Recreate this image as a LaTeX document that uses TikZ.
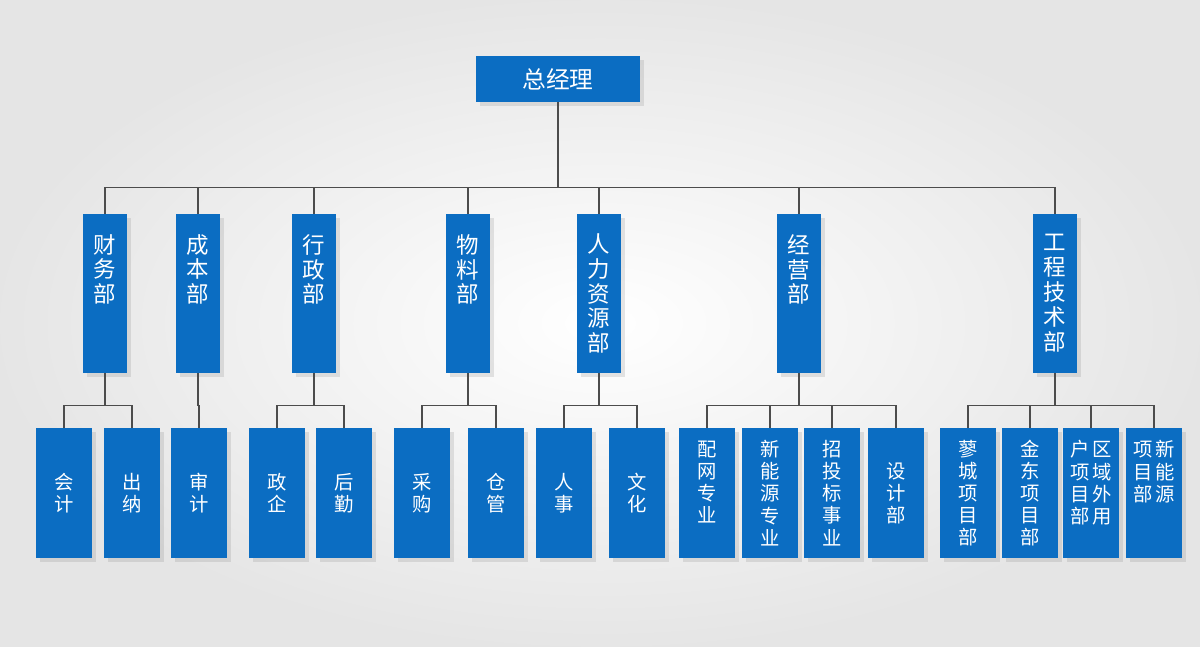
\documentclass[tikz,border=0pt]{standalone}
\usepackage{fontspec}
\setmainfont{Noto Sans CJK SC}
\usetikzlibrary{shadows}

\definecolor{orgblue}{HTML}{0B6DC2}

\begin{document}
\begin{tikzpicture}[
    x=0.02cm, y=-0.02cm,
    every node/.style={fill=orgblue, text=white, align=center, inner sep=0pt,
      drop shadow={shadow xshift=2pt, shadow yshift=-2pt, opacity=0.2}},
    topbox/.style={minimum width=44*0.02cm, minimum height=159*0.02cm, font=\fontsize{12.8}{14.2}\selectfont},
    subbox/.style={minimum width=56*0.02cm, minimum height=130*0.02cm, font=\fontsize{11}{12.6}\selectfont},
    link/.style={draw=black!70, line width=0.6pt}
]
\useasboundingbox (0,0) rectangle (1200,646);
\shade[inner color=white, outer color=black!10] (0,0) rectangle (1200,646);

% top
\node (gm) [minimum width=164*0.02cm, minimum height=46*0.02cm, font=\fontsize{13.5}{15}\selectfont] at (558,79) {总经理};

% departments
\node (cw) [topbox] at (105,293.5) {财\\务\\部\\ \\ };
\node (cb) [topbox] at (198,293.5) {成\\本\\部\\ \\ };
\node (xz) [topbox] at (314,293.5) {行\\政\\部\\ \\ };
\node (wl) [topbox] at (468,293.5) {物\\料\\部\\ \\ };
\node (rl) [topbox] at (599,293.5) {人\\力\\资\\源\\部};
\node (jy) [topbox] at (799,293.5) {经\\营\\部\\ \\ };
\node (gc) [topbox] at (1055,293.5) {工\\程\\技\\术\\部};

% sections
\node (kj) [subbox] at (64,493) {会\\计};
\node (cn) [subbox] at (132,493) {出\\纳};
\node (sj) [subbox] at (199,493) {审\\计};
\node (zq) [subbox] at (277,493) {政\\企};
\node (hq) [subbox] at (344,493) {后\\勤};
\node (cg) [subbox] at (422,493) {采\\购};
\node (ck) [subbox] at (496,493) {仓\\管};
\node (rs) [subbox] at (564,493) {人\\事};
\node (wh) [subbox] at (637,493) {文\\化};
\node (pw) [subbox] at (707,493) {配\\网\\专\\业\\ };
\node (xn) [subbox] at (770,493) {新\\能\\源\\专\\业};
\node (zt) [subbox] at (832,493) {招\\投\\标\\事\\业};
\node (sd) [subbox] at (896,493) {设\\计\\部};
\node (lc) [subbox] at (968,493) {蓼\\城\\项\\目\\部};
\node (jd) [subbox] at (1030,493) {金\\东\\项\\目\\部};
\node (qy) [subbox] at (1091,493) {户\,区\\项\,域\\目\,外\\部\,用\\ };
\node (xy) [subbox] at (1154,493) {项\,新\\目\,能\\部\,源\\ \\ };

% connectors
\foreach \d in {cw,cb,xz,wl,rl,jy,gc}
  \draw[link] (gm.south) -- ++(0,85) -| (\d.north);
\foreach \p/\c in {cw/kj,cw/cn,cb/sj,xz/zq,xz/hq,wl/cg,wl/ck,rl/rs,rl/wh,
                   jy/pw,jy/xn,jy/zt,jy/sd,gc/lc,gc/jd,gc/qy,gc/xy}
  \draw[link] (\p.south) -- ++(0,32) -| (\c.north);
\end{tikzpicture}
\end{document}
